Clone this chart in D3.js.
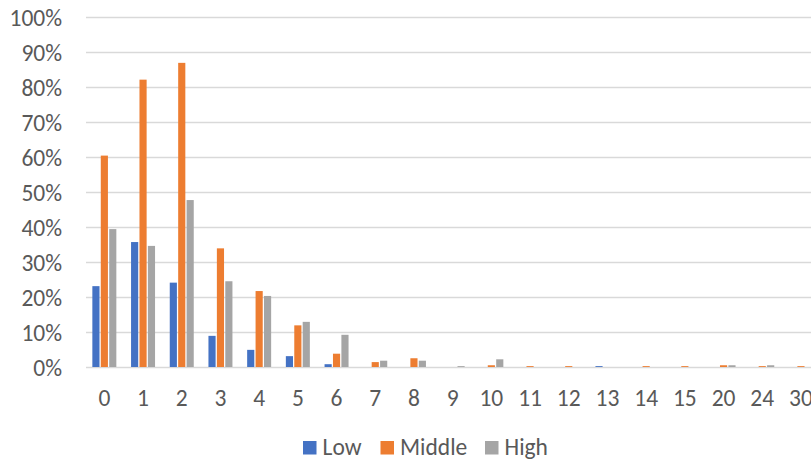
<!DOCTYPE html>
<html><head><meta charset="utf-8">
<script src="https://cdn.jsdelivr.net/npm/d3@7"></script>
<style>
html,body{margin:0;padding:0;background:#fff;overflow:hidden;}
svg{display:block;font-family:Carlito,Calibri,Lato,"Open Sans",sans-serif;}
</style></head>
<body>
<script>
const categories = ["0","1","2","3","4","5","6","7","8","9","10","11","12","13","14","15","20","24","30"];
const seriesNames = ["Low","Middle","High"];
const lowValues    = [23.1,35.7,24.1,8.9,4.9,3.1,0.8,0,0,0,0,0,0,0.25,0,0,0,0,0];
const middleValues = [60.4,82.1,86.9,33.9,21.7,11.9,3.8,1.4,2.5,0,0.5,0.25,0.25,0,0.25,0.25,0.5,0.25,0.25];
const highValues   = [39.4,34.6,47.7,24.5,20.3,12.9,9.2,1.8,1.8,0.25,2.2,0,0,0,0,0,0.5,0.5,0];
const yTicks = [0,10,20,30,40,50,60,70,80,90,100];
const colors = ["#4472C4","#ED7D31","#A5A5A5"];
const seriesValues = [lowValues, middleValues, highValues];

const W = 811, H = 459;
const FS = "23.5px";
const FF = "Carlito,Calibri,Lato,sans-serif";
const svg = d3.select("body").append("svg").attr("width", W).attr("height", H);

const y = d3.scaleLinear().domain([0,100]).range([367,17]);
const x0 = d3.scaleBand().domain(categories).range([85, 820.3]).paddingInner(0.38).paddingOuter(0.19);
const x1 = d3.scaleBand().domain(seriesNames).range([0, x0.bandwidth()]).paddingInner(0.15);

// gridlines
svg.append("g").selectAll("line").data(yTicks).join("line")
  .attr("x1", 86).attr("x2", W)
  .attr("y1", d => Math.round(y(d)) + 0.5).attr("y2", d => Math.round(y(d)) + 0.5)
  .attr("stroke", "#D9D9D9").attr("stroke-width", 1.3);

// y axis labels
const yAxis = d3.axisLeft(y).tickValues(yTicks).tickFormat(d => d + "%").tickSize(0).tickPadding(0);
const yg = svg.append("g").attr("transform", "translate(62,0)").call(yAxis);
yg.select(".domain").remove();
yg.attr("font-size", null).attr("font-family", null);
yg.selectAll("text").attr("fill", "#595959").attr("dy", "0.35em").style("font-size", FS).style("font-family", FF);

// bars
const groups = svg.append("g").selectAll("g").data(categories).join("g")
  .attr("transform", d => `translate(${x0(d)},0)`);
groups.selectAll("rect").data((c, i) => seriesNames.map((s, j) => ({s, v: seriesValues[j][i], j})))
  .join("rect")
  .attr("x", d => x1(d.s)).attr("width", x1.bandwidth())
  .attr("y", d => y(d.v)).attr("height", d => y(0) - y(d.v))
  .attr("fill", d => colors[d.j]);

// x axis labels
const xAxis = d3.axisBottom(x0).tickSize(0).tickPadding(0);
const xg = svg.append("g").attr("transform", "translate(0,405.5)").call(xAxis);
xg.select(".domain").remove();
xg.attr("font-size", null).attr("font-family", null);
xg.selectAll("text").attr("fill", "#595959").attr("y", 0).attr("dy", 0).style("font-size", FS).style("font-family", FF);

// legend
const legendX = [303, 380.5, 485];
const lg = svg.append("g").selectAll("g").data(seriesNames).join("g")
  .attr("transform", (d, i) => `translate(${legendX[i]},441)`);
lg.append("rect").attr("width", 13.5).attr("height", 13.5).attr("fill", (d, i) => colors[i]);
lg.append("text").attr("x", 19.5).attr("y", 13.5).text(d => d)
  .attr("fill", "#595959").style("font-size", FS).style("font-family", FF);
</script>
</body></html>
